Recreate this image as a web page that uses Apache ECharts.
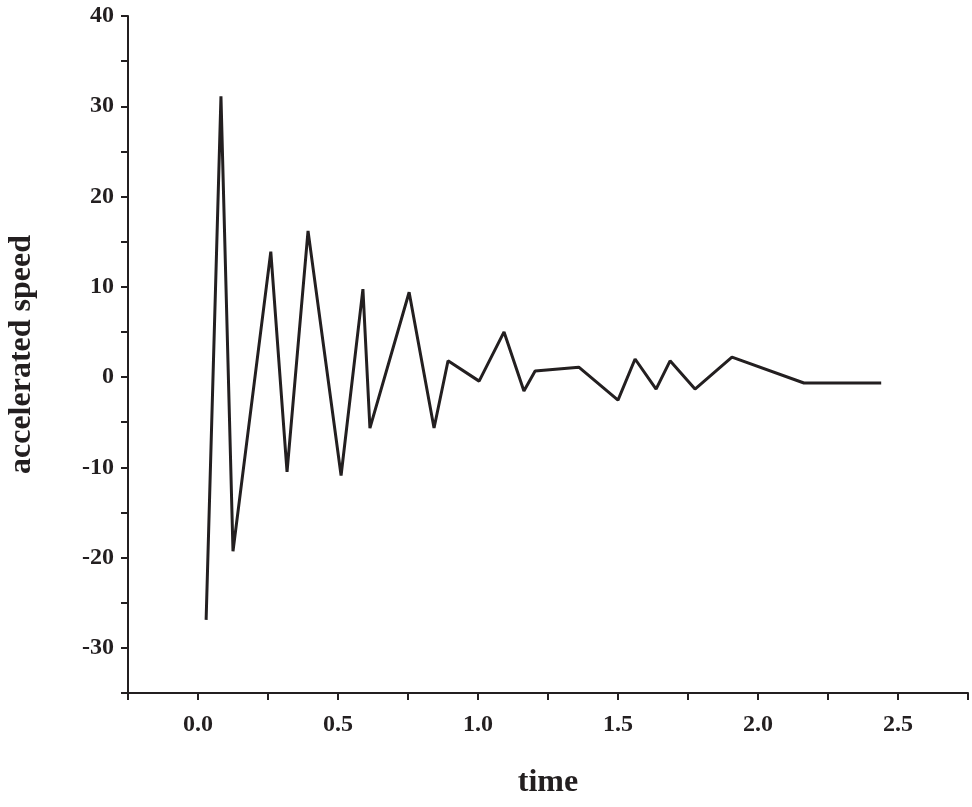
<!DOCTYPE html>
<html>
<head>
<meta charset="utf-8">
<script src="https://cdn.jsdelivr.net/npm/echarts@6/dist/echarts.min.js"></script>
<style>html,body{margin:0;padding:0;background:#fff}#chart{width:972px;height:807px}</style>
</head>
<body>
<div id="chart"></div>
<script>
const timeValues = [0.029, 0.082, 0.125, 0.26, 0.318, 0.393, 0.511, 0.589, 0.614, 0.754, 0.843, 0.893, 1.004, 1.093, 1.164, 1.204, 1.36, 1.5, 1.561, 1.636, 1.686, 1.775, 1.907, 2.164, 2.282, 2.44];
const accelValues = [-26.9, 31.1, -19.3, 13.9, -10.5, 16.2, -10.9, 9.75, -5.65, 9.4, -5.65, 1.8, -0.45, 5.0, -1.55, 0.66, 1.1, -2.55, 2.0, -1.33, 1.8, -1.33, 2.2, -0.66, -0.66, -0.66];

const font = 'Liberation Serif';
const chart = echarts.init(document.getElementById('chart'));

const near = (v, step) => Math.abs(v / step - Math.round(v / step)) < 1e-6;

chart.setOption({
	animation: false,
	grid: {left: 128, right: 4, top: 16, bottom: 114, containLabel: false, outerBoundsMode: 'none'},
	xAxis: {
		type: 'value',
		min: -0.25,
		max: 2.75,
		interval: 0.25,
		name: 'time',
		nameLocation: 'middle',
		nameGap: 74,
		nameTextStyle: {fontFamily: font, fontWeight: 'bold', fontSize: 32, color: '#231f20'},
		axisLine: {onZero: false, lineStyle: {color: '#231f20', width: 2}},
		axisTick: {inside: false, length: 7, lineStyle: {color: '#231f20', width: 2}},
		axisLabel: {
			margin: 20, fontFamily: font, fontWeight: 'bold', fontSize: 24, color: '#231f20',
			formatter: v => near(v, 0.5) ? v.toFixed(1) : ''
		},
		splitLine: {show: false}
	},
	yAxis: {
		type: 'value',
		min: -35,
		max: 40,
		interval: 5,
		name: 'accelerated speed',
		nameLocation: 'middle',
		nameGap: 90,
		nameTextStyle: {fontFamily: font, fontWeight: 'bold', fontSize: 32, color: '#231f20'},
		axisLine: {onZero: false, lineStyle: {color: '#231f20', width: 2}},
		axisTick: {inside: false, length: 7, lineStyle: {color: '#231f20', width: 2}},
		axisLabel: {
			margin: 14, fontFamily: font, fontWeight: 'bold', fontSize: 24, color: '#231f20',
			formatter: v => near(v, 10) ? String(v) : ''
		},
		splitLine: {show: false}
	},
	series: [{
		type: 'line',
		data: timeValues.map((t, i) => [t, accelValues[i]]),
		showSymbol: false,
		lineStyle: {color: '#231f20', width: 3}
	}]
});
</script>
</body>
</html>
